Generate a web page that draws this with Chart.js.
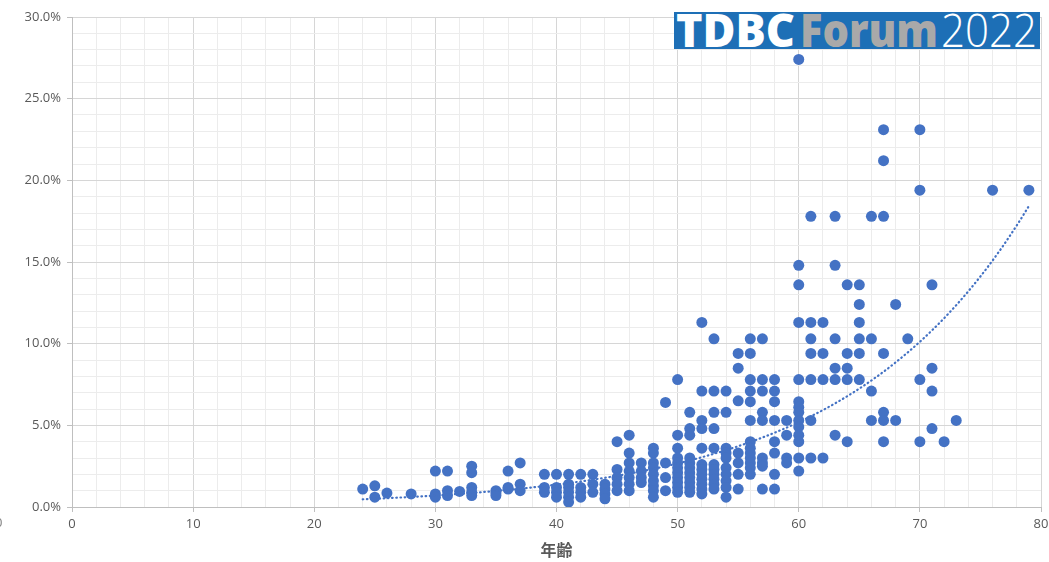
<!DOCTYPE html>
<html>
<head>
<meta charset="utf-8">
<script src="https://cdn.jsdelivr.net/npm/chart.js@4/dist/chart.umd.min.js"></script>
<style>
  html, body { margin: 0; padding: 0; background: #fff; }
  #wrap { position: relative; width: 1049px; height: 562px; overflow: hidden; }
  #chart { display: block; }
  .stray { position: absolute; left: -5px; top: 513px; font: 13px "Open Sans", sans-serif; color: #7f7f7f; }
  .logo { position: absolute; left: 674px; top: 12px; width: 366px; height: 37px; background: #1d6fb6; overflow: hidden; }
  .logo span { position: absolute; top: -6px; font-family: "Open Sans", "Liberation Sans", sans-serif; font-size: 46px; line-height: 46px; white-space: nowrap; transform-origin: 0 0; }
  .logo .t1 { left: 2px; color: #ffffff; font-weight: 800; }
  .logo .t2 { left: 126px; color: #a9a9a9; font-weight: 800; }
  .logo .t3 { left: 267px; color: #ffffff; font-weight: 300; }
</style>
</head>
<body>
<div id="wrap">
  <canvas id="chart" width="1049" height="562"></canvas>
  <div class="stray">0</div>
  <div class="logo">
    <span class="t1" data-w="119">TDBC</span>
    <span class="t2" data-w="138">Forum</span>
    <span class="t3" data-w="96">2022</span>
  </div>
</div>
<script>
// Ages (x) and the rates observed at each age (%), one inner list per age
const ageGroups = [24, 25, 26, 28, 30, 31, 32, 33, 35, 36, 37, 39, 40, 41, 42, 43, 44,
  45, 46, 47, 48, 49, 50, 51, 52, 53, 54, 55, 56, 57, 58, 59, 60, 61, 62, 63, 64, 65,
  66, 67, 68, 69, 70, 71, 72, 73, 76, 79];
const ratesByAge = [
  [1.1],
  [1.3, 0.6],
  [0.85],
  [0.8],
  [2.2, 0.8, 0.6],
  [2.2, 1.0, 0.7],
  [0.95],
  [2.5, 2.1, 1.2, 0.9, 0.7],
  [1.0, 0.85, 0.7],
  [2.2, 1.2, 1.1],
  [2.7, 1.4, 1.0],
  [2.0, 1.2, 0.9],
  [2.0, 1.2, 0.9, 0.6],
  [2.0, 1.4, 1.2, 0.9, 0.6, 0.3],
  [2.0, 1.2, 0.9, 0.6],
  [2.0, 1.4, 0.9],
  [1.4, 1.1, 0.8, 0.5],
  [4.0, 2.3, 1.8, 1.4, 1.0],
  [4.4, 3.3, 2.7, 2.2, 1.8, 1.4, 1.0],
  [2.7, 2.2, 1.8, 1.5],
  [3.6, 3.3, 2.7, 2.4, 2.0, 1.6, 1.3, 1.0, 0.6],
  [6.4, 2.7, 1.8, 1.0],
  [7.8, 4.4, 3.6, 3.0, 2.7, 2.4, 2.1, 1.8, 1.5, 1.2, 0.9],
  [5.8, 4.8, 4.4, 3.0, 2.7, 2.4, 2.1, 1.8, 1.5, 1.2, 0.9],
  [11.3, 7.1, 5.3, 4.8, 3.6, 2.6, 2.3, 2.0, 1.7, 1.4, 1.1, 0.8],
  [10.3, 7.1, 5.8, 4.8, 3.6, 2.6, 2.3, 2.0, 1.7, 1.4, 1.1],
  [7.1, 5.8, 3.6, 3.3, 3.0, 2.4, 2.0, 1.6, 1.2, 0.6],
  [9.4, 8.5, 6.5, 3.3, 2.7, 2.0, 1.1],
  [10.3, 9.4, 7.8, 7.1, 6.45, 5.3, 4.0, 3.6, 3.3, 3.0, 2.7, 2.4, 2.0],
  [10.3, 7.8, 7.1, 5.8, 5.3, 3.0, 2.7, 2.5, 1.1],
  [7.8, 7.1, 6.45, 5.3, 4.0, 3.3, 2.0, 1.1],
  [5.3, 4.4, 3.0, 2.7],
  [27.4, 14.8, 13.6, 11.3, 7.8, 6.45, 6.1, 5.8, 5.3, 4.9, 4.4, 4.0, 3.0, 2.2],
  [17.8, 11.3, 10.3, 9.4, 7.8, 5.3, 3.0],
  [11.3, 9.4, 7.8, 3.0],
  [17.8, 14.8, 10.3, 8.5, 7.8, 4.4],
  [13.6, 9.4, 8.5, 7.8, 4.0],
  [13.6, 12.4, 11.3, 10.3, 9.4, 7.8],
  [17.8, 10.3, 7.1, 5.3],
  [23.1, 21.2, 17.8, 9.4, 5.8, 5.3, 4.0],
  [12.4, 5.3],
  [10.3],
  [23.1, 19.4, 7.8, 4.0],
  [13.6, 8.5, 7.1, 4.8],
  [4.0],
  [5.3],
  [19.4],
  [19.4]
];

// Labelled tick values on each axis
const xLabelTicks = [0, 10, 20, 30, 40, 50, 60, 70, 80];
const yLabelTicks = [0, 5, 10, 15, 20, 25, 30];
const xTitle = '年齢';

const BLUE = '#4472C4';
const TEXT = '#595959';

// Flatten into scatter points
const points = [];
ageGroups.forEach((age, i) => ratesByAge[i].forEach(r => points.push({ x: age, y: r })));

// Exponential trendline: least squares fit of ln(rate) against age
let n = points.length, sx = 0, sl = 0, sxx = 0, sxl = 0;
points.forEach(p => { const l = Math.log(p.y); sx += p.x; sl += l; sxx += p.x * p.x; sxl += p.x * l; });
const slope = (n * sxl - sx * sl) / (n * sxx - sx * sx);
const intercept = (sl - slope * sx) / n;
const minAge = Math.min(...ageGroups), maxAge = Math.max(...ageGroups);
const trendPoints = [];
for (let a = minAge; a <= maxAge + 1e-9; a += 0.5) {
  trendPoints.push({ x: a, y: Math.exp(intercept + slope * a) });
}

new Chart(document.getElementById('chart'), {
  type: 'scatter',
  data: {
    datasets: [
      {
        type: 'line',
        data: trendPoints,
        borderColor: BLUE,
        borderWidth: 2.2,
        borderDash: [0.6, 3.6],
        borderCapStyle: 'round',
        pointRadius: 0,
        fill: false,
        tension: 0,
        order: 0
      },
      {
        data: points,
        backgroundColor: BLUE,
        borderColor: BLUE,
        borderWidth: 0,
        pointRadius: 5.5,
        pointHoverRadius: 5.5,
        order: 1
      }
    ]
  },
  options: {
    responsive: false,
    animation: false,
    devicePixelRatio: 1,
    layout: { padding: { left: 0, right: 8, top: 17, bottom: 0 } },
    plugins: { legend: { display: false }, tooltip: { enabled: false } },
    scales: {
      x: {
        type: 'linear',
        min: 0, max: 80,
        afterFit: s => { s.height = 55; s.paddingLeft = 0; s.paddingRight = 0; },
        border: { color: '#bfbfbf', width: 1 },
        grid: {
          color: c => xLabelTicks.includes(c.tick.value) ? '#d6d6d6' : '#ececec',
          tickColor: c => xLabelTicks.includes(c.tick.value) ? '#bfbfbf' : 'rgba(0,0,0,0)',
          tickLength: 5,
          lineWidth: 1
        },
        ticks: {
          stepSize: 2,
          autoSkip: false,
          maxRotation: 0,
          padding: 4,
          color: TEXT,
          font: { family: '"Open Sans", sans-serif', size: 13 },
          callback: v => xLabelTicks.includes(v) ? String(v) : ''
        },
        title: {
          display: true,
          text: xTitle,
          color: TEXT,
          font: { family: '"Noto Sans CJK JP", sans-serif', size: 16, weight: 'bold' },
          padding: { top: 4, bottom: 2 }
        }
      },
      y: {
        type: 'linear',
        min: 0, max: 30,
        afterFit: s => { s.width = 72; s.paddingTop = 0; s.paddingBottom = 0; },
        border: { color: '#bfbfbf', width: 1 },
        grid: {
          color: c => yLabelTicks.includes(c.tick.value) ? '#d6d6d6' : '#ececec',
          tickColor: c => yLabelTicks.includes(c.tick.value) ? '#bfbfbf' : 'rgba(0,0,0,0)',
          tickLength: 5,
          lineWidth: 1
        },
        ticks: {
          stepSize: 1,
          autoSkip: false,
          padding: 6,
          color: TEXT,
          font: { family: '"Open Sans", sans-serif', size: 13 },
          callback: v => yLabelTicks.includes(v) ? v.toFixed(1) + '%' : ''
        }
      }
    }
  }
});

// Fit each word of the banner to its slot width
document.querySelectorAll('.logo span').forEach(el => {
  const w = el.getBoundingClientRect().width;
  el.style.transform = 'scaleX(' + (parseFloat(el.dataset.w) / w) + ')';
});
</script>
</body>
</html>
